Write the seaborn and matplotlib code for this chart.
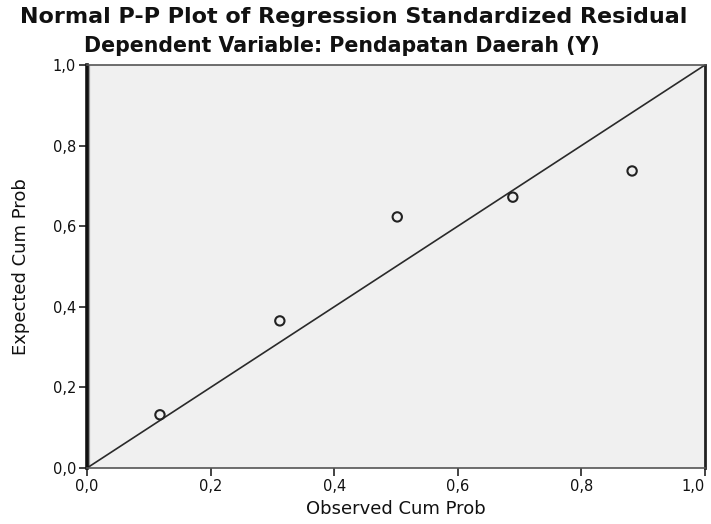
import matplotlib
matplotlib.use("Agg")
import matplotlib.pyplot as plt
import seaborn as sns
import pandas as pd

# Data
observed_cum_prob = [0.118, 0.312, 0.502, 0.689, 0.882]
expected_cum_prob = [0.132, 0.365, 0.623, 0.672, 0.737]
diag_x = [0.0, 1.0]
diag_y = [0.0, 1.0]
x_ticks = [0.0, 0.2, 0.4, 0.6, 0.8, 1.0]
x_tick_labels = ["0,0", "0,2", "0,4", "0,6", "0,8", "1,0"]
y_ticks = [0.0, 0.2, 0.4, 0.6, 0.8, 1.0]
y_tick_labels = ["0,0", "0,2", "0,4", "0,6", "0,8", "1,0"]

title = "Normal P-P Plot of Regression Standardized Residual"
subtitle = "Dependent Variable: Pendapatan Daerah (Y)"
x_label = "Observed Cum Prob"
y_label = "Expected Cum Prob"

sns.set_style("white")
plt.rcParams["font.family"] = ["DejaVu Sans"]

fig = plt.figure(figsize=(7.11, 5.24), dpi=100)
ax = fig.add_axes([0.1224, 0.1069, 0.8692, 0.7691])
ax.set_facecolor("#f0f0f0")

df = pd.DataFrame({"obs": observed_cum_prob, "exp": expected_cum_prob})
line_df = pd.DataFrame({"x": diag_x, "y": diag_y})

sns.lineplot(data=line_df, x="x", y="y", ax=ax, color="#2a2a2a", linewidth=1.2, zorder=2)
sns.scatterplot(data=df, x="obs", y="exp", ax=ax, marker="o", s=45,
                facecolors="none", edgecolor="#222222", linewidth=1.5, zorder=3)

# inner grey edge beside the left frame line
ax.axvline(0.004, color="#9a9a9a", linewidth=1.6, zorder=1)

ax.set_xlim(0, 1)
ax.set_ylim(0, 1)
ax.set_xticks(x_ticks)
ax.set_xticklabels(x_tick_labels)
ax.set_yticks(y_ticks)
ax.set_yticklabels(y_tick_labels)
ax.tick_params(axis="both", direction="out", length=6, width=1.2, labelsize=10.5,
               color="#222222", labelcolor="#111111", bottom=True, left=True, pad=2)
lbls = ax.get_xticklabels()
lbls[-1].set_ha("right")

for side, sp in ax.spines.items():
    sp.set_visible(True)
    sp.set_color("#333333")
    sp.set_linewidth(1.2)
ax.spines["left"].set_linewidth(2.6)
ax.spines["left"].set_color("#111111")
ax.spines["right"].set_linewidth(2.0)
ax.spines["right"].set_color("#222222")
ax.spines["top"].set_color("#555555")
ax.spines["bottom"].set_color("#555555")

ax.set_xlabel(x_label, fontsize=13, labelpad=4, color="#111111")
ax.set_ylabel(y_label, fontsize=13, color="#111111")
ax.yaxis.set_label_coords(-0.092, 0.5)

fig.text(0.497, 0.968, title, ha="center", va="center", fontsize=16, fontweight="bold", color="#111111")
fig.text(0.481, 0.912, subtitle, ha="center", va="center", fontsize=14.8, fontweight="bold", color="#111111")

fig.savefig("out.png", dpi=100, facecolor="white")
